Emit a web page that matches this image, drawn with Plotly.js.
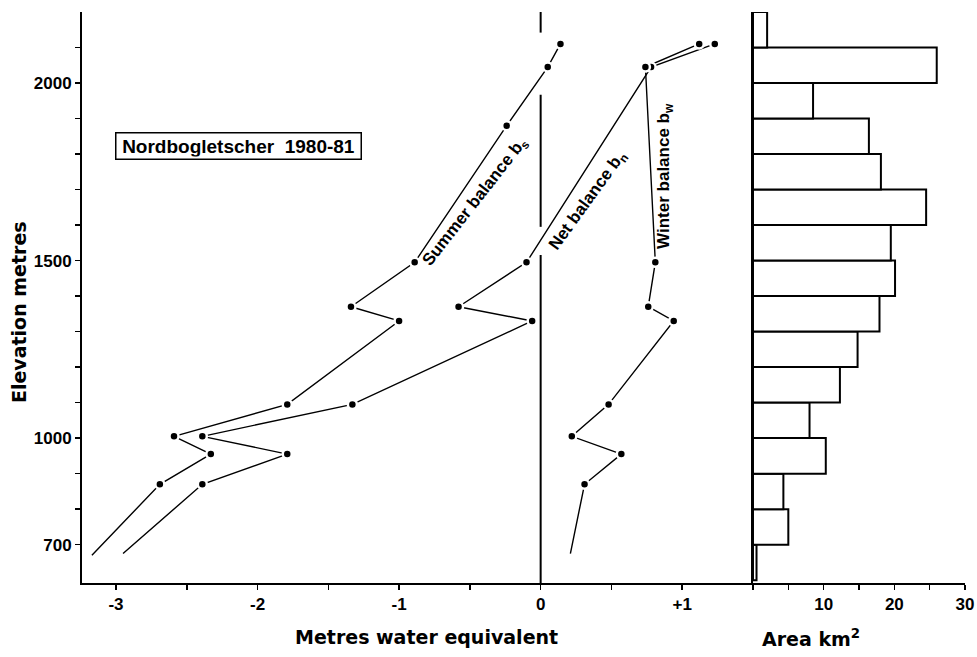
<!DOCTYPE html>
<html><head><meta charset="utf-8">
<script src="https://cdn.plot.ly/plotly-3.0.1.min.js"></script>
<style>html,body{margin:0;padding:0;background:#fff}#chart{width:977px;height:657px}</style>
</head><body><div id="chart"></div>
<script>
// Mass balance profiles (metres water equivalent) vs elevation (m)
const summerElev = [2110, 2045, 1880, 1495, 1370, 1330, 1095, 1005, 955, 870, 670];
const summerBal  = [0.14, 0.05, -0.24, -0.89, -1.34, -1.00, -1.79, -2.59, -2.33, -2.69, -3.17];
const netElev    = [2110, 2045, 1495, 1370, 1330, 1095, 1005, 955, 870, 675];
const netBal     = [1.23, 0.78, -0.10, -0.58, -0.06, -1.33, -2.39, -1.79, -2.39, -2.95];
const winterElev = [2110, 2045, 1495, 1370, 1330, 1095, 1005, 955, 870, 675];
const winterBal  = [1.12, 0.74, 0.81, 0.76, 0.94, 0.48, 0.22, 0.57, 0.31, 0.21];

// Area-altitude distribution (100 m bands)
const bandCentres = [650, 750, 850, 950, 1050, 1150, 1250, 1350, 1450, 1550, 1650, 1750, 1850, 1950, 2050, 2150];
const bandArea    = [0.5, 5.0, 4.3, 10.3, 8.0, 12.3, 14.8, 17.9, 20.1, 19.5, 24.5, 18.1, 16.4, 8.5, 26.0, 2.0];

// Axis ticks
const xTickVals = [-3, -2.5, -2, -1.5, -1, -0.5, 0, 0.5, 1, 1.5];
const xTickText = ['-3', '', '-2', '', '-1', '', '0', '', '+1', ''];
const yTickVals = [700, 800, 900, 1000, 1100, 1200, 1300, 1400, 1500, 1600, 1700, 1800, 1900, 2000, 2100];
const yTickText = ['700', '', '', '1000', '', '', '', '', '1500', '', '', '', '', '2000', ''];
const aTickVals = [0, 5, 10, 15, 20, 25, 30];
const aTickText = ['', '', '10', '', '20', '', '30'];

const BLACK = '#000';
const bold = s => (s === '' ? '' : '<b>' + s + '</b>');
function lineTrace(x, y) {
  return {x: x, y: y, type: 'scatter', mode: 'lines', line: {color: BLACK, width: 1.4},
          xaxis: 'x', yaxis: 'y', hoverinfo: 'skip', showlegend: false};
}
function dotTrace(x, y) {
  return {x: x.slice(0, -1), y: y.slice(0, -1), type: 'scatter', mode: 'markers',
          marker: {color: BLACK, size: 9, line: {color: '#fff', width: 2.5}},
          xaxis: 'x', yaxis: 'y', hoverinfo: 'skip', showlegend: false};
}

const traces = [
  lineTrace(summerBal, summerElev),
  lineTrace(netBal, netElev),
  lineTrace(winterBal, winterElev),
  dotTrace(summerBal, summerElev),
  dotTrace(netBal, netElev),
  dotTrace(winterBal, winterElev),
  {type: 'bar', orientation: 'h', y: bandCentres, x: bandArea, width: 100, base: 0,
   marker: {color: '#fff', line: {color: BLACK, width: 2}},
   xaxis: 'x2', yaxis: 'y2', hoverinfo: 'skip', showlegend: false}
];

const tickFont = {family: 'Liberation Sans, Arial, sans-serif', size: 17, color: BLACK};
const titleFont = {family: 'DejaVu Sans, sans-serif', size: 19, color: BLACK};
const labelFont = {family: 'Liberation Sans, Arial, sans-serif', size: 17, color: BLACK};

const split = 0.7599;
const axisCommon = {ticks: 'outside', ticklen: 5, tickwidth: 1.5, tickcolor: BLACK, showline: true, linewidth: 2,
                    linecolor: BLACK, showgrid: false, zeroline: false, tickfont: tickFont, fixedrange: true,
                    tickmode: 'array'};
const layout = {
  width: 977, height: 657,
  margin: {l: 82, r: 12, t: 12, b: 74},
  paper_bgcolor: '#fff', plot_bgcolor: '#fff',
  showlegend: false,
  xaxis: Object.assign({}, axisCommon, {domain: [0, split], range: [-3.24, 1.5], tickvals: xTickVals,
          ticktext: xTickText.map(bold), anchor: 'y'}),
  yaxis: Object.assign({}, axisCommon, {range: [592, 2200], tickvals: yTickVals,
          ticktext: yTickText.map(bold), anchor: 'x'}),
  xaxis2: Object.assign({}, axisCommon, {domain: [split, 1], range: [0, 30], tickvals: aTickVals,
          ticktext: aTickText.map(bold), anchor: 'y2'}),
  yaxis2: {range: [592, 2200], anchor: 'x2', showline: true, linewidth: 2, linecolor: BLACK,
           showticklabels: false, ticks: '', showgrid: false, zeroline: false, fixedrange: true},
  shapes: [
    {type: 'line', xref: 'x', yref: 'y', x0: 0, x1: 0, y0: 2200, y1: 2142, line: {color: BLACK, width: 2}},
    {type: 'line', xref: 'x', yref: 'y', x0: 0, x1: 0, y0: 1967, y1: 1595, line: {color: BLACK, width: 2}},
    {type: 'line', xref: 'x', yref: 'y', x0: 0, x1: 0, y0: 1516, y1: 592, line: {color: BLACK, width: 2}}
  ],
  annotations: [
    {xref: 'x', yref: 'y', x: -2.138, y: 1822, text: '<b>Nordbogletscher  1980-81</b>', showarrow: false,
     font: {family: 'Liberation Sans, Arial, sans-serif', size: 19, color: BLACK},
     bgcolor: '#fff', bordercolor: BLACK, borderwidth: 1.5, borderpad: 2, width: 240, height: 21},
    {xref: 'x', yref: 'y', x: -0.457, y: 1664, text: '<b>Summer balance b<sub>s</sub></b>', showarrow: false,
     textangle: -52, font: labelFont},
    {xref: 'x', yref: 'y', x: 0.335, y: 1669, text: '<b>Net balance b<sub>n</sub></b>', showarrow: false,
     textangle: -54, font: labelFont},
    {xref: 'x', yref: 'y', x: 0.882, y: 1737, text: '<b>Winter balance b<sub>w</sub></b>', showarrow: false,
     textangle: -90, font: labelFont},
    {xref: 'paper', yref: 'paper', x: 0.3896, y: -0.117, text: '<b>Metres water equivalent</b>', showarrow: false,
     font: titleFont},
    {xref: 'paper', yref: 'paper', x: 0.8834, y: -0.12, text: '<b>Area km<sup>2</sup></b>', showarrow: false,
     font: titleFont},
    {xref: 'paper', yref: 'paper', x: -0.086, y: 0.4746, text: '<b>Elevation metres</b>', showarrow: false,
     textangle: -90, font: titleFont}
  ]
};

Plotly.newPlot('chart', traces, layout, {staticPlot: true, displayModeBar: false});
</script>
</body></html>
